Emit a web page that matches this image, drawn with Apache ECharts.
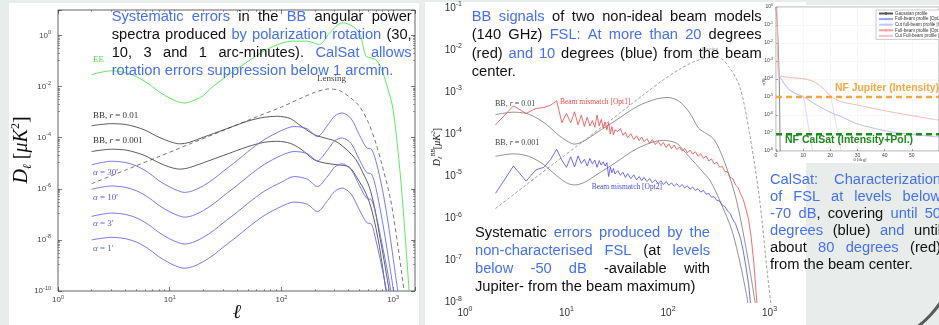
<!DOCTYPE html>
<html><head><meta charset="utf-8">
<script src="https://cdn.jsdelivr.net/npm/echarts@6/dist/echarts.min.js"></script>
<style>html,body{margin:0;padding:0;background:#e8edec;}#c{width:939px;height:325px;}</style>
</head><body><div id="c"></div>
<script>
// ================= DATA (D values as log10) =================
// Left panel: multipole l and log10 D_l [uK^2]
const eeL   = [2,3,4,5,6,7,8,10,12,13.6,16,20,23.6,30,40,48,70,100,126,170,218,270,352,420,500,570,640,720,800,900,1000,1140,1260,1390];
const eeLog = [-1.53,-1.38,-1.45,-1.6,-1.8,-2.0,-2.2,-2.45,-2.6,-2.64,-2.56,-2.35,-2.05,-1.7,-1.3,-1.07,-0.6,-0.3,-0.22,-0.22,-0.35,0.1,0.5,0.4,0.1,-0.8,-0.88,-1.0,-1.4,-2.1,-2.9,-5.1,-7.4,-10];
const lensL   = [2,4,8,15,30,60,100,150,200,267,330,420,500,600,700,800,950,1100,1250];
const lensLog = [-5.8,-5.27,-4.74,-4.25,-3.72,-3.18,-2.8,-2.45,-2.22,-2.09,-2.15,-2.45,-2.77,-3.4,-4.21,-5.1,-6.43,-8.2,-9.96];
const bb01L   = [2,3,4,5,6,7,8,10,12.3,15,20,30,50,70,92,120,145,197,250,306,380,465,540,610,680,750,830,920];
const bb01Log = [-3.53,-3.45,-3.48,-3.58,-3.7,-3.85,-3.98,-4.15,-4.24,-4.18,-3.98,-3.7,-3.35,-3.2,-3.16,-3.25,-3.5,-3.88,-4.02,-4.14,-4.45,-4.86,-5.4,-5.91,-6.7,-7.73,-8.8,-9.96];
const bb001L   = [2,3,4,5,6,7,8,10,12.3,15,20,30,50,70,92,120,150,196,250,320,405,480,570,650,750,860];
const bb001Log = [-4.54,-4.45,-4.48,-4.58,-4.7,-4.85,-4.98,-5.15,-5.23,-5.17,-4.98,-4.7,-4.35,-4.18,-4.14,-4.22,-4.45,-4.86,-5.0,-5.06,-5.15,-5.6,-6.17,-6.9,-8.2,-9.96];
const alphaL   = [2,3,4,5,6,7,8,10,12,13.6,16,20,25,30,40,50,70,100,130,170,210,260,300,350,420,500,580,640,700,800,900,1000,1100];
const a30Log = [-5.06,-4.92,-4.97,-5.1,-5.28,-5.48,-5.68,-5.93,-6.08,-6.14,-6.08,-5.88,-5.6,-5.32,-4.9,-4.55,-4.08,-3.72,-3.56,-3.65,-3.95,-3.5,-3.15,-3.03,-3.25,-3.9,-4.4,-4.45,-4.9,-6.0,-7.3,-8.7,-10];
const a10Log = [-6.02,-5.89,-5.94,-6.07,-6.25,-6.45,-6.65,-6.9,-7.05,-7.11,-7.05,-6.85,-6.57,-6.29,-5.87,-5.52,-5.05,-4.69,-4.54,-4.62,-4.9,-4.47,-4.12,-4.01,-4.22,-4.87,-5.36,-5.42,-5.95,-7.25,-8.6,-9.9,-11.2];
const a3Log  = [-7.08,-6.95,-7.0,-7.13,-7.31,-7.51,-7.71,-7.96,-8.11,-8.16,-8.1,-7.9,-7.62,-7.34,-6.92,-6.57,-6.1,-5.74,-5.52,-5.62,-5.91,-5.5,-5.15,-5.02,-5.25,-5.88,-6.37,-6.43,-7.0,-8.2,-9.35,-10.6,-12];
const a1Log  = [-8.0,-7.9,-7.95,-8.08,-8.26,-8.46,-8.66,-8.91,-9.06,-9.11,-9.05,-8.85,-8.57,-8.29,-7.87,-7.52,-7.05,-6.69,-6.52,-6.6,-6.89,-6.45,-6.1,-5.97,-6.2,-6.83,-7.32,-7.38,-8.0,-9.15,-10.3,-11.5,-12.7];

// Middle panel
const mBB01L   = [2,3,4,5,6,7,8,10,12,15,20,30,50,76,100,130,165,200,239,280,320,375,472,592,715,780];
const mBB01Log = [-3.53,-3.47,-3.5,-3.6,-3.72,-3.85,-3.98,-4.15,-4.23,-4.15,-3.95,-3.68,-3.33,-3.16,-3.12,-3.22,-3.5,-3.85,-3.98,-4.1,-4.35,-4.77,-5.56,-6.75,-7.94,-8.6];
const mBB001L   = [2,3,4,5,6,7,8,10,12,15,20,30,50,88,120,141,220,260,322,435,590,650];
const mBB001Log = [-4.52,-4.46,-4.5,-4.6,-4.72,-4.86,-4.98,-5.15,-5.2,-5.14,-4.95,-4.68,-4.33,-4.14,-4.2,-4.37,-4.89,-5.1,-5.56,-6.35,-7.78,-8.5];
const mLensL   = [2,4,8,15,30,60,90,130,180,240,310,400,510,635,800,960,1040];
const mLensLog = [-5.76,-5.2,-4.64,-4.14,-3.58,-3.02,-2.7,-2.45,-2.27,-2.18,-2.16,-2.4,-2.87,-3.97,-5.56,-7.38,-8.1];
const beamL = [2,3,4,5,6,7,8,9,10,11,12,13,14,15,16,17,18,19,20,21,22,23,24,25,26,27,28,29,30,
  32,34,36,38,40,43,46,49,52,55,58,62,66,70,75,80,85,90,96,102,108,115,122,130,138,146,155,165,175,186,198,210,223,237,252,268,285,303,322,342,363,386,410,435,462,490,520,552,586,622,660,700,740,780];
const opt1Log = [-3.77,-3.32,-3.50,-3.38,-3.36,-3.30,-3.20,-3.72,-3.50,-3.72,-3.46,-3.77,-3.54,-3.81,-3.59,-3.80,-3.67,-3.83,-3.54,-3.80,-3.64,-3.85,-3.70,-3.89,-3.72,-3.99,-3.81,-4.01,-3.89,
  -3.93,-3.86,-4.02,-3.95,-4.08,-3.98,-4.12,-4.03,-4.15,-4.06,-4.17,-4.10,-4.21,-4.12,-4.24,-4.16,-4.27,-4.19,-4.31,-4.22,-4.34,-4.25,-4.36,-4.30,-4.40,-4.33,-4.44,-4.37,-4.47,-4.41,-4.52,-4.45,-4.57,-4.51,-4.63,-4.58,-4.70,-4.66,-4.78,-4.76,-4.88,-4.89,-5.02,-5.05,-5.20,-5.26,-5.42,-5.55,-5.78,-6.02,-6.45,-7.05,-7.8,-8.5];
const opt2Log = [-5.40,-4.75,-5.11,-4.84,-4.78,-4.59,-4.35,-4.61,-4.78,-4.53,-4.77,-4.51,-4.69,-4.59,-4.75,-4.57,-4.70,-4.61,-4.78,-4.62,-4.73,-4.65,-4.75,-4.67,-5.00,-4.78,-4.91,-4.81,-4.94,
  -4.86,-4.97,-4.90,-5.02,-4.93,-5.05,-4.96,-5.08,-5.00,-5.10,-5.02,-5.12,-5.05,-5.15,-5.08,-5.17,-5.10,-5.19,-5.12,-5.21,-5.15,-5.23,-5.17,-5.25,-5.19,-5.27,-5.22,-5.30,-5.25,-5.33,-5.29,-5.37,-5.33,-5.42,-5.40,-5.49,-5.48,-5.57,-5.58,-5.68,-5.71,-5.82,-5.88,-6.02,-6.12,-6.30,-6.48,-6.78,-7.15,-7.55,-8.2,-8.9,-9.5,-10];

// Inset: theta [deg] and log10 epsilon(theta)
const gaussT = [0,0.5,0.9,1.2,1.35,1.45,1.55];
const gaussLog = [0,-0.9,-2.6,-4.0,-5.5,-7.0,-8.5];
const fullO2T = [1,2,3,4,5,7,10,15,20,24,30,42,58,61];
const fullO2Log = [-3.82,-4.0,-4.25,-4.45,-4.6,-4.8,-4.98,-5.45,-5.85,-6.09,-6.5,-6.93,-7.2,-7.22];
const cutO2T = [1,2,3,4,5,7,10,11,12,13,13.8];
const cutO2Log = [-3.82,-4.0,-4.25,-4.45,-4.6,-4.8,-4.98,-5.8,-6.7,-7.6,-8.3];
const fullO1T = [0.3,0.5,0.7,1,2,4,6,8,10,12,14,16,18,20,24,30,42,58,61];
const fullO1Log = [0,-1.5,-3,-3.82,-3.85,-3.9,-3.93,-3.96,-3.98,-4.05,-4.15,-4.35,-4.6,-4.95,-5.26,-5.45,-5.82,-6.24,-6.3];
const cutO1T = [0.3,0.5,0.7,1,2,4,6,8,10,12,14,16,18,20,21,22,23,24.2];
const cutO1Log = [0,-1.5,-3,-3.82,-3.85,-3.9,-3.93,-3.96,-3.98,-4.05,-4.15,-4.35,-4.6,-4.95,-5.6,-6.4,-7.2,-8.2];
const jupiterLevel = 1e-5;
const calsatLevel = 8.5e-8;
const insetNames = ['Gaussian profile','Full-beam profile [Opt2]','Cut full-beam profile [Opt2]','Full-beam profile [Opt1]','Cut Full-beam profile [Opt1]'];

// Text content
const BLUE = '#4570f0', BLACK = '#111';
const leftText = [
  [['Systematic errors', BLUE], [' in the ', BLACK], ['BB', BLUE], [' angular power', BLACK]],
  [['spectra produced ', BLACK], ['by polarization rotation', BLUE], [' (30,', BLACK]],
  [['10, 3 and 1 arc-minutes). ', BLACK], ['CalSat allows', BLUE]],
  [['rotation errors suppression below 1 arcmin.', BLUE]]
];
const midTopText = [
  [['BB signals', BLUE], [' of two non-ideal beam models', BLACK]],
  [['(140 GHz) ', BLACK], ['FSL:  At more than 20', BLUE], [' degrees', BLACK]],
  [['(red) ', BLACK], ['and 10', BLUE], [' degrees (blue) from the beam', BLACK]],
  [['center.', BLACK]]
];
const midBotText = [
  [['Systematic ', BLACK], ['errors produced by the', BLUE]],
  [['non-characterised FSL', BLUE], [' (at ', BLACK], ['levels', BLUE]],
  [['below -50 dB', BLUE], [' -available with', BLACK]],
  [['Jupiter- from the beam maximum)', BLACK]]
];
const rightText = [
  [['CalSat:  Characterization', BLUE]],
  [['of FSL at levels below', BLUE]],
  [['-70 dB', BLUE], [', covering ', BLACK], ['until 50', BLUE]],
  [['degrees', BLUE], [' (blue) ', BLACK], ['and', BLUE], [' until', BLACK]],
  [['about ', BLACK], ['80 degrees', BLUE], [' (red)', BLACK]],
  [['from the beam center.', BLACK]]
];

// ================= BUILD =================
const pts = (L, lg) => L.map((l, i) => [l, Math.pow(10, lg[i])]);
const FONT = '14.7px "Liberation Sans", Arial, sans-serif';
const ctx = document.createElement('canvas').getContext('2d');
ctx.font = FONT;
function toWords(segs) {
  const words = []; let cur = null;
  segs.forEach(([t, c]) => {
    t.split(/(\s+)/).forEach(p => {
      if (p === '') return;
      if (/^\s+$/.test(p)) { cur = null; return; }
      if (!cur) { cur = []; words.push(cur); }
      cur.push([p, c]);
    });
  });
  return words;
}
function block(lines, x0, x1, y0, lh) {
  const els = [];
  const space = ctx.measureText(' ').width;
  lines.forEach((segs, i) => {
    const words = toWords(segs);
    const ws = words.map(w => w.reduce((s, p) => s + ctx.measureText(p[0]).width, 0));
    const tot = ws.reduce((a, b) => a + b, 0);
    const just = i < lines.length - 1 && words.length > 1;
    const gap = just ? (x1 - x0 - tot) / (words.length - 1) : space;
    let x = x0; const y = y0 + i * lh;
    words.forEach((w, k) => {
      let px = x;
      w.forEach(p => {
        els.push({type: 'text', x: px, y: y, z: 100, silent: true,
          style: {text: p[0], fill: p[1], font: FONT, textAlign: 'left', textVerticalAlign: 'middle'}});
        px += ctx.measureText(p[0]).width;
      });
      x += ws[k] + gap;
    });
  });
  return els;
}
const SERIF = '"Liberation Serif", "DejaVu Serif", serif';
function ann(x, y, text, color, size) {
  return {type: 'text', x, y, z: 50, silent: true,
    style: {text, fill: color, font: size + 'px ' + SERIF, textAlign: 'left', textVerticalAlign: 'middle',
      rich: {i: {fontStyle: 'italic', fontSize: size, fontFamily: SERIF, fill: color}}}};
}
function logFmt(showOdd) {
  return function (v) {
    const lg = Math.log10(v); const e = Math.round(lg);
    if (Math.abs(lg - e) > 1e-6) return '';
    if (!showOdd && e % 2 !== 0) return '';
    return '{b|10}{e|' + e + '}';
  };
}
function richLab(base, exp, color) {
  return {b: {fontSize: base, color, fontFamily: 'Liberation Sans', lineHeight: base * 1.5},
          e: {fontSize: exp, color, fontFamily: 'Liberation Sans', lineHeight: exp, verticalAlign: 'top'}};
}

const chart = echarts.init(document.getElementById('c'), null, {renderer: 'canvas'});
const lineS = (name, x, y, data, color, w, extra) => Object.assign({
  name, type: 'line', xAxisIndex: x, yAxisIndex: y, data, symbol: 'none', showSymbol: false,
  lineStyle: {color, width: w}, itemStyle: {color}, animation: false, silent: true
}, extra || {});

const tickCommon = {show: true, inside: true, length: 4, lineStyle: {color: '#222', width: 0.6}};
const minorCommon = {show: true, splitNumber: 9, length: 2, lineStyle: {color: '#444', width: 0.5}};
const minorY = {show: true, splitNumber: 10, length: 2, lineStyle: {color: '#444', width: 0.5}};

const option = {
  backgroundColor: '#e8edec',
  animation: false,
  grid: [
    {left: 58, top: 10, width: 357, height: 281, show: true, backgroundColor: '#fff', borderColor: '#222', borderWidth: 0.7},
    {left: 465, top: 8.3, width: 322.4, height: 294.4},
    {left: 776, top: 7, width: 165.6, height: 144, show: true, backgroundColor: '#fff', borderColor: '#555', borderWidth: 0.5}
  ],
  legend: {
    data: insetNames, orient: 'vertical', left: 876, top: 10, itemWidth: 14, itemHeight: 3, itemGap: 0.6,
    padding: [1, 3, 1, 2], backgroundColor: '#fff', borderColor: '#999', borderWidth: 0.5,
    textStyle: {fontSize: 4.5, color: '#333', fontFamily: 'Liberation Sans', padding: [0, 0, 0, -3]},
    selectedMode: false
  },
  xAxis: [
    {gridIndex: 0, type: 'log', min: 1, max: 1570, position: 'bottom',
      axisLine: {show: false}, axisTick: tickCommon, minorTick: minorCommon, splitLine: {show: false},
      axisLabel: {margin: 3, formatter: logFmt(true), rich: richLab(8, 5.5, '#444')}},
    {gridIndex: 0, type: 'log', min: 1, max: 1570, position: 'top',
      axisLine: {show: false}, axisTick: tickCommon, minorTick: minorCommon, splitLine: {show: false}, axisLabel: {show: false}},
    {gridIndex: 1, type: 'log', min: 1, max: 1500, position: 'bottom',
      axisLine: {show: false}, axisTick: {show: false}, splitLine: {show: false},
      axisLabel: {margin: 3, formatter: logFmt(true), rich: richLab(10, 7, '#333')}},
    {gridIndex: 2, type: 'value', min: 0, max: 60, interval: 10,
      axisLine: {show: false}, axisTick: {show: true, inside: true, length: 2, lineStyle: {color: '#555', width: 0.5}},
      splitLine: {show: true, lineStyle: {color: '#eee', width: 0.5}},
      axisLabel: {margin: 2, fontSize: 5, color: '#444', fontFamily: 'Liberation Sans', showMaxLabel: false}}
  ],
  yAxis: [
    {gridIndex: 0, type: 'log', logBase: 100, min: 1e-10, max: 10, position: 'left',
      axisLine: {show: false}, axisTick: tickCommon, minorTick: minorY, splitLine: {show: false},
      axisLabel: {margin: 7, formatter: logFmt(false), rich: richLab(8, 5.5, '#444')}},
    {gridIndex: 0, type: 'log', logBase: 100, min: 1e-10, max: 10, position: 'right',
      axisLine: {show: false}, axisTick: tickCommon, minorTick: minorY, splitLine: {show: false}, axisLabel: {show: false}},
    {gridIndex: 1, type: 'log', min: 1e-8, max: 0.1, position: 'left',
      axisLine: {show: false}, axisTick: {show: false}, splitLine: {show: false},
      axisLabel: {margin: 3, formatter: logFmt(true), rich: richLab(10, 7, '#333')}},
    {gridIndex: 2, type: 'log', min: 1e-8, max: 1, position: 'left',
      axisLine: {show: false}, axisTick: {show: true, inside: true, length: 2, lineStyle: {color: '#555', width: 0.5}},
      splitLine: {show: true, lineStyle: {color: '#eee', width: 0.5}},
      axisLabel: {margin: 3, formatter: logFmt(true), rich: richLab(5, 3.5, '#444')}}
  ],
  series: [
    // left panel
    lineS('EE', 0, 0, pts(eeL, eeLog), '#4be64b', 0.9, {smooth: 0.3}),
    lineS('Lensing', 0, 0, pts(lensL, lensLog), '#555', 0.8, {smooth: 0.3, lineStyle: {color: '#555', width: 0.8, type: [4, 3]}}),
    lineS('BB r=0.01', 0, 0, pts(bb01L, bb01Log), '#333', 0.8, {smooth: 0.3}),
    lineS('BB r=0.001', 0, 0, pts(bb001L, bb001Log), '#333', 0.8, {smooth: 0.3}),
    lineS('a30', 0, 0, pts(alphaL, a30Log), '#6a6af2', 0.9, {smooth: 0.3}),
    lineS('a10', 0, 0, pts(alphaL, a10Log), '#6a6af2', 0.9, {smooth: 0.3}),
    lineS('a3', 0, 0, pts(alphaL, a3Log), '#6a6af2', 0.9, {smooth: 0.3}),
    lineS('a1', 0, 0, pts(alphaL, a1Log), '#6a6af2', 0.9, {smooth: 0.3}),
    // middle panel
    lineS('mLens', 2, 2, pts(mLensL, mLensLog), '#777', 0.7, {smooth: 0.3, lineStyle: {color: '#777', width: 0.7, type: [3, 2]}}),
    lineS('mBB01', 2, 2, pts(mBB01L, mBB01Log), '#777', 0.8, {smooth: 0.3}),
    lineS('mBB001', 2, 2, pts(mBB001L, mBB001Log), '#777', 0.8, {smooth: 0.3}),
    lineS('opt1', 2, 2, pts(beamL, opt1Log), '#f04848', 0.8),
    lineS('opt2', 2, 2, pts(beamL, opt2Log), '#4a4af0', 0.8),
    // inset
    lineS(insetNames[0], 3, 3, pts(gaussT, gaussLog), '#555', 0.7),
    lineS(insetNames[1], 3, 3, pts(fullO2T, fullO2Log), '#9aa2f2', 0.7, {smooth: 0.2}),
    lineS(insetNames[2], 3, 3, pts(cutO2T, cutO2Log), '#c2c8f8', 0.7, {smooth: 0.2}),
    lineS(insetNames[3], 3, 3, pts(fullO1T, fullO1Log), '#f2a0a0', 0.7, {smooth: 0.2}),
    lineS(insetNames[4], 3, 3, pts(cutO1T, cutO1Log), '#f8c4c4', 0.7, {smooth: 0.2}),
    lineS('jup', 3, 3, [[0, jupiterLevel], [60, jupiterLevel]], '#f5a742', 2.5, {lineStyle: {color: '#f5a742', width: 2.5, type: [6, 4]}, z: 5}),
    lineS('cal', 3, 3, [[0, calsatLevel], [60, calsatLevel]], '#1f8a1f', 2.5, {lineStyle: {color: '#1f8a1f', width: 2.5, type: [6, 4]}, z: 5})
  ],
  graphic: [
    {type: 'rect', z: -10, silent: true, shape: {x: 9, y: 3, width: 410, height: 330}, style: {fill: '#fff'}},
    {type: 'rect', z: -10, silent: true, shape: {x: 425, y: 2, width: 381, height: 330}, style: {fill: '#fff'}},
    {type: 'rect', z: -10, silent: true, shape: {x: 760, y: 5, width: 185, height: 158}, style: {fill: '#fff'}},
    {type: 'arc', z: 60, silent: true, shape: {cx: 850, cy: 240, r: 110, startAngle: 0.3, endAngle: 1.2}, style: {stroke: '#5a5a5a', lineWidth: 3, fill: 'none'}},
    // axis names
    {type: 'text', x: 22, y: 150, rotation: Math.PI / 2, z: 50, silent: true,
      style: {text: '{d|D}{s|ℓ}{n| [}{d|μK}{p|2}{n|]}', textAlign: 'center', textVerticalAlign: 'middle', font: '20px ' + SERIF, fill: '#111',
        rich: {d: {fontStyle: 'italic', fontSize: 20, fontFamily: SERIF, fill: '#111', lineHeight: 24},
               s: {fontStyle: 'italic', fontSize: 12, fontFamily: SERIF, fill: '#111', lineHeight: 24, verticalAlign: 'bottom'},
               n: {fontSize: 20, fontFamily: SERIF, fill: '#111', lineHeight: 24},
               p: {fontSize: 12, fontFamily: SERIF, fill: '#111', lineHeight: 12, verticalAlign: 'top'}}}},
    {type: 'text', x: 437, y: 147, rotation: Math.PI / 2, z: 50, silent: true,
      style: {text: '{d|D}{s|ℓ}{p|BB}{n|[}{d|μK}{p|2}{n|]}', textAlign: 'center', textVerticalAlign: 'middle', font: '10px ' + SERIF, fill: '#222',
        rich: {d: {fontStyle: 'italic', fontSize: 10, fontFamily: SERIF, fill: '#222', lineHeight: 13},
               s: {fontStyle: 'italic', fontSize: 6, fontFamily: SERIF, fill: '#222', lineHeight: 13, verticalAlign: 'bottom'},
               n: {fontSize: 10, fontFamily: SERIF, fill: '#222', lineHeight: 13},
               p: {fontStyle: 'italic', fontSize: 6, fontFamily: SERIF, fill: '#222', lineHeight: 6, verticalAlign: 'top'}}}},
    {type: 'text', x: 237, y: 313, z: 50, silent: true, style: {text: 'ℓ', font: 'italic 20px ' + SERIF, fill: '#111', textAlign: 'center', textVerticalAlign: 'middle'}},
    {type: 'text', x: 625, y: 332, z: 50, silent: true, style: {text: 'ℓ', font: 'italic 16px ' + SERIF, fill: '#111', textAlign: 'center', textVerticalAlign: 'middle'}},
    {type: 'text', x: 764, y: 82, rotation: Math.PI / 2, z: 50, silent: true, style: {text: 'ε(θ)', font: '4.5px ' + SERIF, fill: '#333', textAlign: 'center', textVerticalAlign: 'middle'}},
    {type: 'text', x: 860, y: 160, z: 50, silent: true, style: {text: 'θ [deg]', font: '4.5px ' + SERIF, fill: '#333', textAlign: 'center', textVerticalAlign: 'middle'}},
    // annotations left
    ann(93, 60, 'EE', '#4be64b', 9),
    ann(317, 79, 'Lensing', '#444', 9),
    ann(93, 115.7, 'BB, {i|r} = 0.01', '#333', 9),
    ann(93, 141, 'BB, {i|r} = 0.001', '#333', 9),
    ann(93, 172.7, '{i|α} = 30′', '#5a5af0', 9),
    ann(93, 198, '{i|α} = 10′', '#5a5af0', 9),
    ann(93, 224, '{i|α} = 3′', '#5a5af0', 9),
    ann(93, 249, '{i|α} = 1′', '#5a5af0', 9),
    // annotations middle
    ann(495, 104, 'BB, {i|r} = 0.01', '#444', 8),
    ann(495, 143.3, 'BB, {i|r} = 0.001', '#444', 8),
    ann(560, 101.7, 'Beam mismatch [Opt1]', '#f04848', 7.5),
    ann(591.7, 187.3, 'Beam mismatch [Opt2]', '#4a4af0', 7.5),
    ann(702, 49, 'Lensing', '#999', 5),
    // inset labels
    {type: 'text', x: 835, y: 88.5, z: 100, silent: true, style: {text: 'NF Jupiter (Intensity)', font: 'bold 10.4px "Liberation Sans", Arial, sans-serif', fill: '#f5a742', textAlign: 'left', textVerticalAlign: 'middle'}},
    {type: 'text', x: 785, y: 140.5, z: 100, silent: true, style: {text: 'NF CalSat (Intensity+Pol.)', font: 'bold 10.5px "Liberation Sans", Arial, sans-serif', fill: '#1f8a1f', textAlign: 'left', textVerticalAlign: 'middle'}}
  ].concat(
    block(leftText, 111.7, 411.7, 17.3, 17.8),
    block(midTopText, 471.7, 761.7, 17.3, 18.1),
    block(midBotText, 475, 710, 233.3, 18),
    block(rightText, 770, 941, 180, 17)
  )
};
chart.setOption(option);
</script>
</body></html>
